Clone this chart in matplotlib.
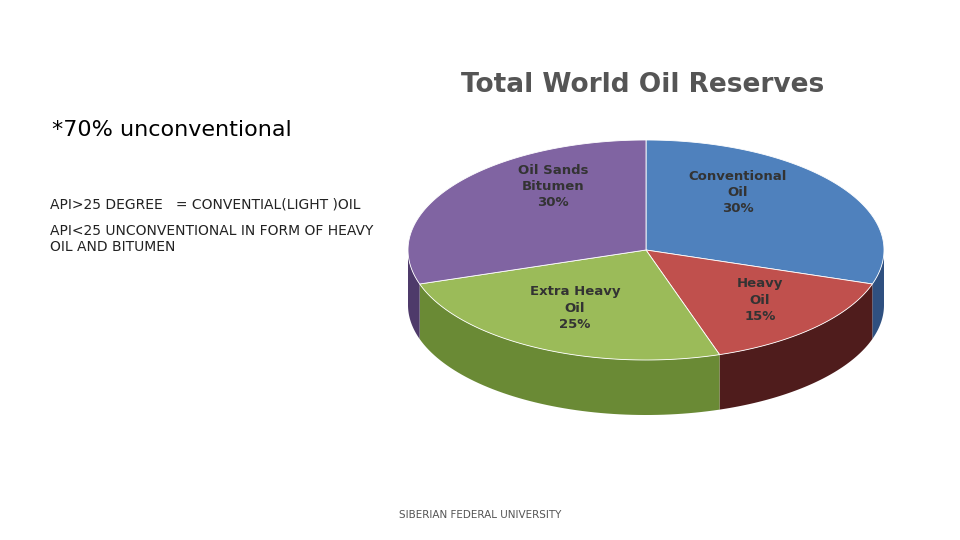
import matplotlib.pyplot as plt
import numpy as np
from matplotlib.patches import Polygon

labels = ['Conventional\nOil\n30%', 'Heavy\nOil\n15%', 'Extra Heavy\nOil\n25%', 'Oil Sands\nBitumen\n30%']
values = [30, 15, 25, 30]
colors = ['#4F81BD', '#C0504D', '#9BBB59', '#8064A2']
side_colors = ['#2f5080', '#4f1c1c', '#6a8a35', '#4e3a6a']
label_pos = [(738, 192), (760, 300), (575, 308), (553, 187)]

cx, cy, rx, ry, depth = 646, 250, 238, 110, 55

fig = plt.figure(figsize=(9.6, 5.4), dpi=100)
ax = fig.add_axes([0, 0, 1, 1])
ax.set_xlim(0, 960)
ax.set_ylim(540, 0)
ax.axis('off')

def pt(a, dy=0):
    return cx + rx * np.cos(np.radians(a)), cy - ry * np.sin(np.radians(a)) + dy

start = 90.0
total = sum(values)
wedges = []
for v in values:
    end = start - 360 * v / total
    wedges.append((start, end))
    start = end

# side walls, front half only
for (a0, a1), sc in zip(wedges, side_colors):
    lo, hi = min(a0, a1), max(a0, a1)
    for off in (0, -360, 360):
        s, e = max(lo + off, -180), min(hi + off, 0)
        if e > s:
            t = np.linspace(s, e, 60)
            top = [pt(a) for a in t]
            bot = [pt(a, depth) for a in t[::-1]]
            ax.add_patch(Polygon(top + bot, closed=True, facecolor=sc, edgecolor='none'))

# top faces
for (a0, a1), c in zip(wedges, colors):
    t = np.linspace(a0, a1, 120)
    verts = [(cx, cy)] + [pt(a) for a in t]
    ax.add_patch(Polygon(verts, closed=True, facecolor=c, edgecolor='white', linewidth=0.6))

for lab, (x, y) in zip(labels, label_pos):
    ax.text(x, y, lab, ha='center', va='center', fontsize=9.5, fontweight='bold',
            color='#333333', linespacing=1.3)

ax.text(643, 85, 'Total World Oil Reserves', ha='center', va='center', fontsize=19,
        fontweight='bold', color='#555555')

ax.text(52, 130, '*70% unconventional', ha='left', va='center', fontsize=16, color='black')
ax.text(50, 205, 'API>25 DEGREE   = CONVENTIAL(LIGHT )OIL', ha='left', va='center',
        fontsize=10, color='#222222')
ax.text(50, 224, 'API<25 UNCONVENTIONAL IN FORM OF HEAVY\nOIL AND BITUMEN', ha='left',
        va='top', fontsize=10, color='#222222', linespacing=1.2)
ax.text(480, 515, 'SIBERIAN FEDERAL UNIVERSITY', ha='center', va='center', fontsize=7.5,
        color='#555555')

fig.savefig('out.png', dpi=100)
